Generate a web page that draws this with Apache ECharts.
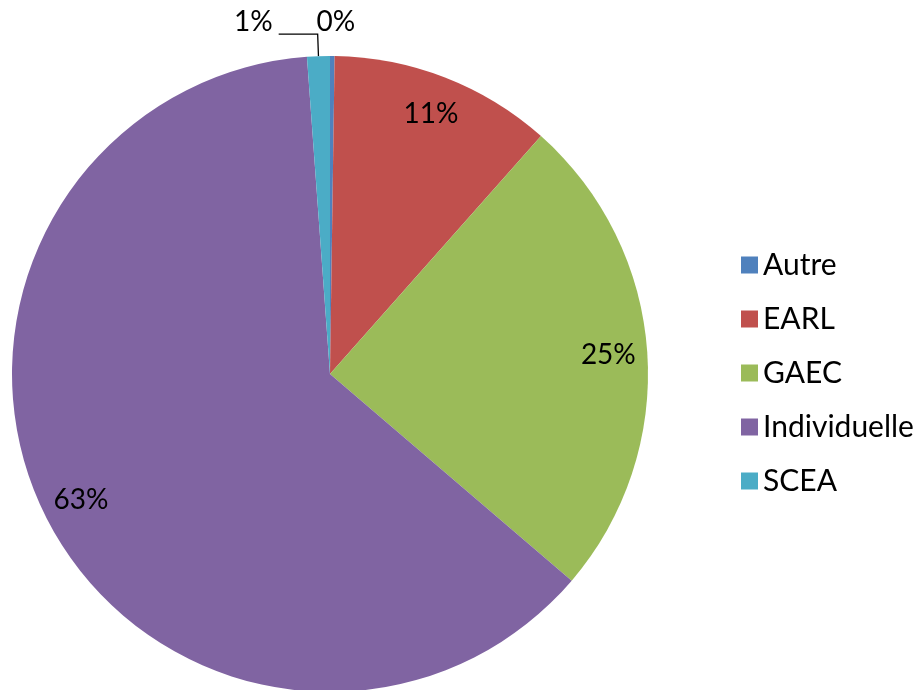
<!DOCTYPE html>
<html>
<head>
<meta charset="utf-8">
<script src="https://cdn.jsdelivr.net/npm/echarts@6/dist/echarts.min.js"></script>
<style>
  html, body { margin: 0; padding: 0; background: #fff; }
  #chart { width: 923px; height: 690px; }
</style>
</head>
<body>
<div id="chart"></div>
<script>
// legal forms of farms (share of count)
const categories = ['Autre', 'EARL', 'GAEC', 'Individuelle', 'SCEA'];
const values = [1, 49, 107, 271, 5];
const colors = ['#4F81BD', '#C0504D', '#9BBB59', '#8064A2', '#4BACC6'];

const total = values.reduce((a, b) => a + b, 0);
const pct = v => Math.round(v / total * 100) + '%';
const font = 'Lato, "Open Sans", sans-serif';

const chart = echarts.init(document.getElementById('chart'));

const pieData = categories.map((name, i) => ({
  name: name,
  value: values[i],
  itemStyle: { color: colors[i] }
}));

// second ring, transparent, only used to put labels near the outer edge
const labelData = categories.map((name, i) => {
  const small = values[i] / total < 0.05;
  const isAutre = name === 'Autre';
  return {
    name: name,
    value: values[i],
    itemStyle: { color: 'rgba(0,0,0,0)' },
    label: {
      show: true,
      position: small ? 'outside' : 'inside'
    },
    labelLine: {
      show: small && !isAutre,
      length: isAutre ? 34 : 22,
      length2: isAutre ? 0 : 39
    }
  };
});

const option = {
  animation: false,
  textStyle: { fontFamily: font },
  legend: {
    orient: 'vertical',
    left: 736,
    top: 245,
    itemWidth: 17,
    itemHeight: 17,
    itemGap: 24,
    itemTextGap: 10,
    icon: 'rect',
    data: categories,
    textStyle: { fontSize: 30, color: '#000', fontFamily: font }
  },
  series: [
    {
      type: 'pie',
      center: [330, 374],
      radius: 318,
      startAngle: 90,
      clockwise: true,
      label: { show: false },
      labelLine: { show: false },
      emphasis: { disabled: true },
      data: pieData
    },
    {
      type: 'pie',
      center: [330, 374],
      radius: [234, 318],
      startAngle: 90,
      clockwise: true,
      avoidLabelOverlap: false,
      silent: true,
      label: {
        color: '#000',
        fontSize: 28,
        fontFamily: font,
        distanceToLabelLine: 6,
        formatter: p => pct(p.value)
      },
      labelLine: {
        lineStyle: { color: '#000', width: 1.3 }
      },
      // the two tiny slices crowd the top of the pie, nudge their labels
      labelLayout: p => {
        if (p.dataIndex === 0) return { dx: -22 };
        if (p.dataIndex === 4) return { dy: -12 };
        return {};
      },
      emphasis: { disabled: true },
      data: labelData
    }
  ]
};

chart.setOption(option);
</script>
</body>
</html>
